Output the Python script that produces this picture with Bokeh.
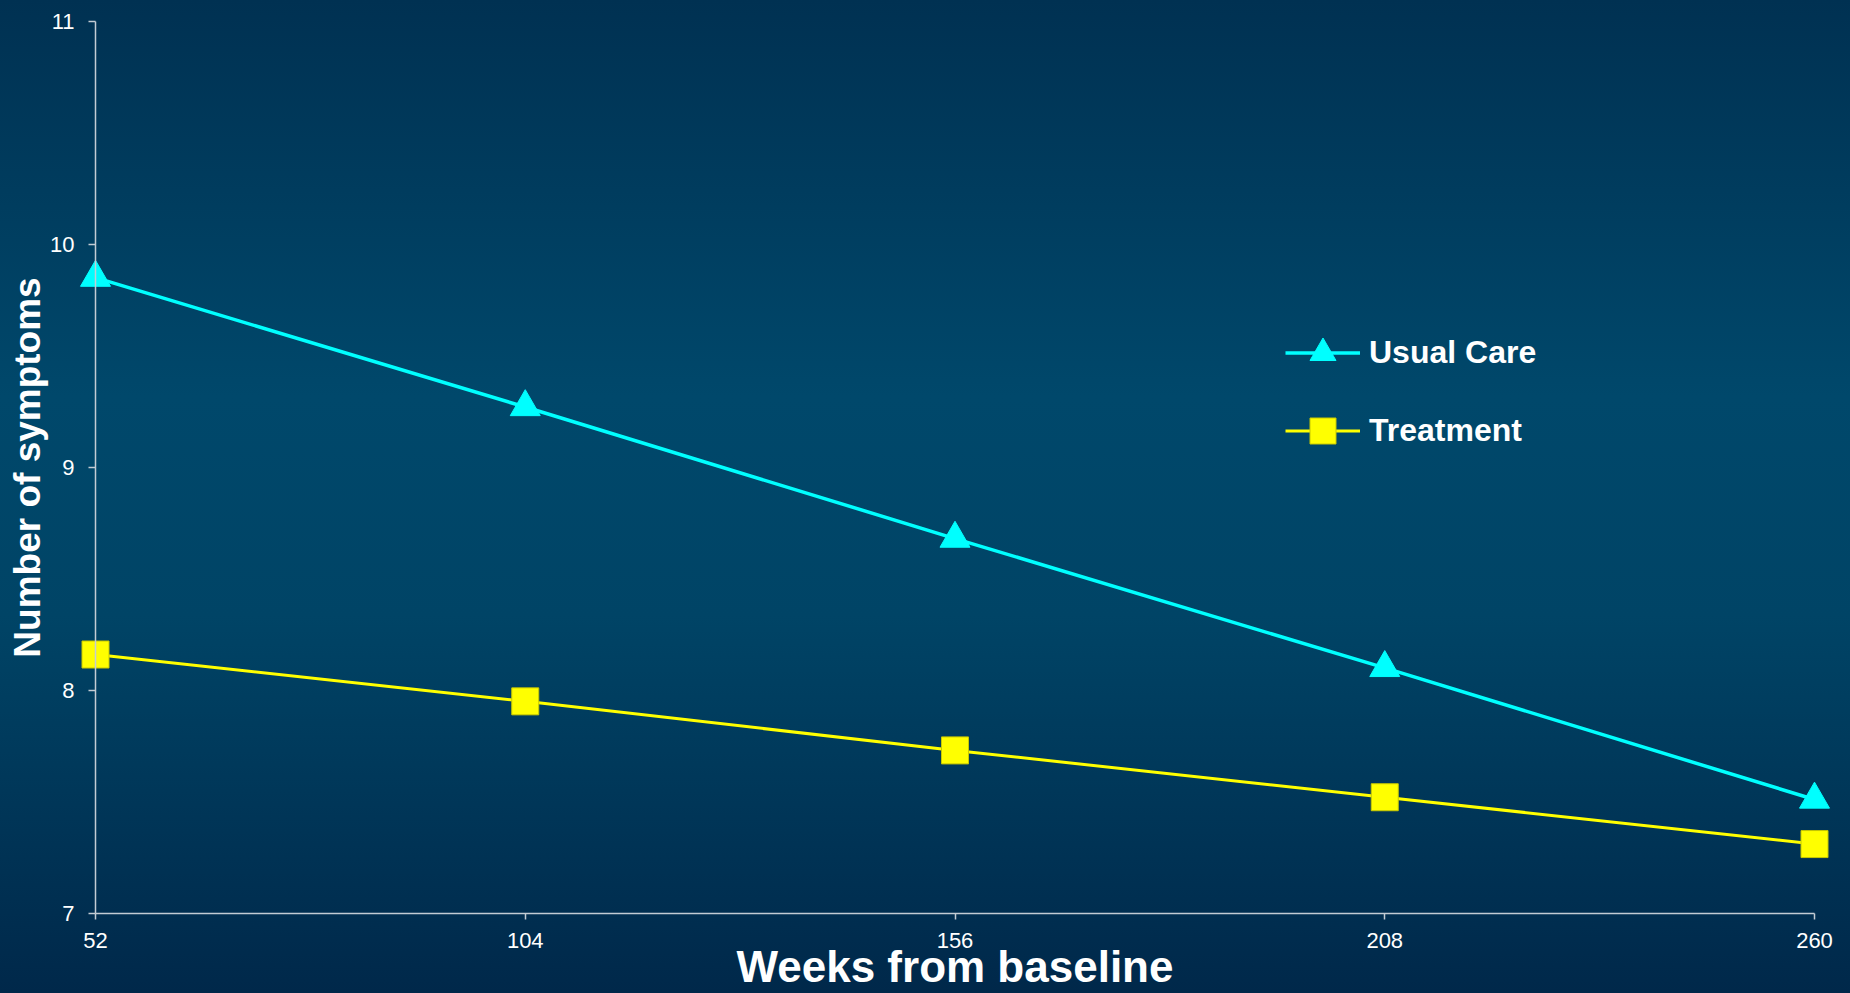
from bokeh.plotting import figure
from bokeh.models import Range1d, FixedTicker, Legend, LegendItem
from bokeh.embed import file_html
from bokeh.resources import INLINE

# Mean number of symptoms by follow-up week
weeks = [52, 104, 156, 208, 260]
usual_care = [9.85, 9.27, 8.68, 8.10, 7.51]
treatment = [8.16, 7.95, 7.73, 7.52, 7.31]
x_ticks = [52, 104, 156, 208, 260]
y_ticks = [7, 8, 9, 10, 11]

W, H = 1850, 993
# pixel margins around the data rectangle (52..260 x 7..11)
left_px, right_px, top_px, bottom_px = 95, 36, 20.7, 80.3

kx = (W - left_px - right_px) / (x_ticks[-1] - x_ticks[0])
ky = (H - top_px - bottom_px) / (y_ticks[-1] - y_ticks[0])
x_range = Range1d(x_ticks[0] - left_px / kx, x_ticks[-1] + right_px / kx)
y_range = Range1d(y_ticks[0] - bottom_px / ky, y_ticks[-1] + top_px / ky)

FONT = "Liberation Sans"
AXIS_COLOR = "#c3ccd4"

p = figure(width=W, height=H, output_backend="svg", toolbar_location=None,
           x_range=x_range, y_range=y_range,
           min_border_left=0, min_border_right=0, min_border_top=0, min_border_bottom=0)
p.styles = {"background": "linear-gradient(to bottom, #003152 0%, #00486b 40%, #004466 62%, #00284a 100%)"}
p.background_fill_alpha = 0
p.border_fill_alpha = 0
p.outline_line_color = None
p.grid.visible = False

for ax in (p.xaxis[0], p.yaxis[0]):
    ax.axis_line_color = AXIS_COLOR
    ax.axis_line_width = 1.5
    ax.major_tick_line_color = AXIS_COLOR
    ax.major_tick_line_width = 1.5
    ax.major_tick_in = 0
    ax.minor_tick_line_color = None
    ax.major_label_text_color = "white"
    ax.major_label_text_font = FONT
    ax.major_label_text_font_size = "22px"
    ax.axis_label_text_color = "white"
    ax.axis_label_text_font = FONT
    ax.axis_label_text_font_style = "bold"

xa = p.xaxis[0]
xa.fixed_location = y_ticks[0]
xa.bounds = (x_ticks[0], x_ticks[-1])
xa.ticker = FixedTicker(ticks=x_ticks)
xa.major_tick_out = 6
xa.major_label_standoff = 14
xa.axis_label = "Weeks from baseline"
xa.axis_label_text_font_size = "44px"
xa.axis_label_standoff = -10

ya = p.yaxis[0]
ya.fixed_location = x_ticks[0]
ya.bounds = (y_ticks[0], y_ticks[-1])
ya.ticker = FixedTicker(ticks=y_ticks)
ya.major_tick_out = 7
ya.major_label_standoff = 14
ya.axis_label = "Number of symptoms"
ya.axis_label_text_font_size = "37px"
ya.axis_label_standoff = -1

uc_line = p.line(weeks, usual_care, line_color="#00ffff", line_width=3.5)
uc_pts = p.scatter(weeks, usual_care, marker="triangle", size=30,
                   fill_color="#00ffff", line_color="#00ffff")
tr_line = p.line(weeks, treatment, line_color="#ffff00", line_width=3)
tr_pts = p.scatter(weeks, treatment, marker="square", size=27,
                   fill_color="#ffff00", line_color="#c8c800", line_width=1)

legend = Legend(
    items=[LegendItem(label="Usual Care", renderers=[uc_line, uc_pts]),
           LegendItem(label="Treatment", renderers=[tr_line, tr_pts])],
    location=(1285, 530),
    background_fill_alpha=0, border_line_color=None,
    padding=0, margin=0, spacing=13,
    glyph_width=75, glyph_height=65, label_height=65, label_standoff=9,
    label_text_color="white", label_text_font=FONT,
    label_text_font_style="bold", label_text_font_size="32px",
)
p.add_layout(legend)

open("out.html", "w").write(file_html(p, INLINE))
